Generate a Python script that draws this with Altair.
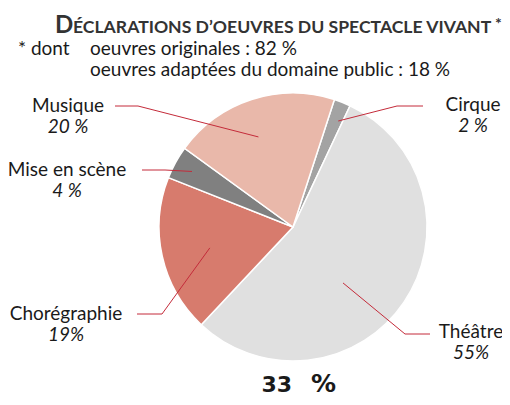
import math
import altair as alt
import pandas as pd

# ---------------- data ----------------
categories = ["Cirque", "Théâtre", "Chorégraphie", "Mise en scène", "Musique"]
values = [2, 55, 19, 4, 20]
pct_text = ["2 %", "55%", "19%", "4 %", "20 %"]
colors = ["#a3a3a3", "#e0e0e0", "#d77b6d", "#808080", "#e9b8aa"]

title_cap = "D"
title_rest = "ÉCLARATIONS D’OEUVRES DU SPECTACLE VIVANT"
note_lead = "* dont"
note_lines = ["oeuvres originales : 82 %", "oeuvres adaptées du domaine public : 18 %"]
total_num = "33"
total_unit = "%"

# ---------------- layout ----------------
W, H = 494, 389
OFF = 8
CX, CY, R = 293 - OFF, 227 - OFF, 134
START = 18.0  # degrees, clockwise from 12 o'clock
FONT = "Lato"
LINE_COLOR = "#c42b3a"

layout = {
    "Cirque":        dict(lx=473, ly=111, x0=423, x1=397, y0=106, dang=1.5, rf=0.86),
    "Théâtre":       dict(lx=471, ly=338, x0=430, x1=405, y0=334, dang=14, rf=0.56),
    "Chorégraphie":  dict(lx=66,  ly=320, x0=137, x1=162, y0=314, dang=-1.5, rf=0.64),
    "Mise en scène": dict(lx=67,  ly=176, x0=142, x1=165, y0=170, dang=0, rf=0.86),
    "Musique":       dict(lx=68,  ly=112, x0=115, x1=138, y0=106, dang=-3, rf=0.72),
}

total = sum(values)
pie_df = pd.DataFrame({"cat": categories, "value": values, "order": list(range(len(values)))})

line_rows, name_rows, pct_rows = [], [], []
cum = 0
for cat, v, p in zip(categories, values, pct_text):
    L = layout[cat]
    a = math.radians(START + 360 * (cum + v / 2) / total + L["dang"])
    cum += v
    ix = CX + L["rf"] * R * math.sin(a)
    iy = CY - L["rf"] * R * math.cos(a)
    pts = [(L["x0"] - OFF, L["y0"] - OFF), (L["x1"] - OFF, L["y0"] - OFF), (ix, iy)]
    for i, (px, py) in enumerate(pts):
        line_rows.append({"cat": cat, "i": i, "px": px, "py": py})
    name_rows.append({"t": cat, "px": L["lx"] - OFF, "py": L["ly"] - OFF})
    pct_rows.append({"t": p, "px": L["lx"] - OFF, "py": L["ly"] + 21 - OFF})

lines_df = pd.DataFrame(line_rows)
names_df = pd.DataFrame(name_rows)
pcts_df = pd.DataFrame(pct_rows)

X = lambda f: alt.X(f"{f}:Q", scale=None, axis=None)
Y = lambda f: alt.Y(f"{f}:Q", scale=None, axis=None)

s = math.radians(START)
pie = alt.Chart(pie_df).mark_arc(radius=R, stroke="white", strokeWidth=1.5).encode(
    theta=alt.Theta("value:Q", stack=True, scale=alt.Scale(range=[s, s + 2 * math.pi])),
    order=alt.Order("order:Q"),
    color=alt.Color("cat:N", scale=alt.Scale(domain=categories, range=colors), legend=None),
    x=alt.value(CX),
    y=alt.value(CY),
)

leaders = alt.Chart(lines_df).mark_line(color=LINE_COLOR, strokeWidth=1).encode(
    x=X("px"), y=Y("py"), detail="cat:N", order="i:Q"
)

names = alt.Chart(names_df).mark_text(
    font=FONT, fontSize=19, color="#1a1a1a", align="center", baseline="alphabetic"
).encode(x=X("px"), y=Y("py"), text="t:N")

pcts = alt.Chart(pcts_df).mark_text(
    font=FONT, fontSize=19, fontStyle="italic", color="#1a1a1a", align="center", baseline="alphabetic"
).encode(x=X("px"), y=Y("py"), text="t:N")

def txt(df, **kw):
    return alt.Chart(pd.DataFrame(df)).mark_text(baseline="alphabetic", **kw).encode(
        x=X("px"), y=Y("py"), text="t:N"
    )

t1 = txt([{"t": title_cap, "px": 55 - OFF, "py": 33 - OFF}], font=FONT, fontSize=24,
         fontWeight="bold", color="#333333", align="left")
t2 = txt([{"t": title_rest, "px": 73 - OFF, "py": 33 - OFF}], font=FONT, fontSize=17.6,
         fontWeight="bold", color="#333333", align="left")
t3 = txt([{"t": "*", "px": 495 - OFF, "py": 29 - OFF}], font=FONT, fontSize=16,
         fontWeight="bold", color="#333333", align="left")
n1 = txt([{"t": note_lead, "px": 18 - OFF, "py": 55 - OFF}], font=FONT, fontSize=19,
         color="#1a1a1a", align="left")
n2 = txt([{"t": note_lines[0], "px": 90 - OFF, "py": 55 - OFF},
          {"t": note_lines[1], "px": 90 - OFF, "py": 76 - OFF}], font=FONT, fontSize=19,
         color="#1a1a1a", align="left")
tot1 = txt([{"t": total_num, "px": 292 - OFF, "py": 392 - OFF}], font="DejaVu Sans",
           fontSize=22, fontWeight="bold", color="#1a1a1a", align="right")
tot2 = txt([{"t": total_unit, "px": 311 - OFF, "py": 392 - OFF}], font="DejaVu Sans",
           fontSize=25, fontWeight="bold", color="#1a1a1a", align="left")

chart = alt.layer(pie, leaders, names, pcts, t1, t2, t3, n1, n2, tot1, tot2).properties(
    width=W, height=H, padding=0, autosize="none"
).configure_view(stroke=None)

chart.save("out.html", embed_options={"renderer": "svg", "actions": False})
